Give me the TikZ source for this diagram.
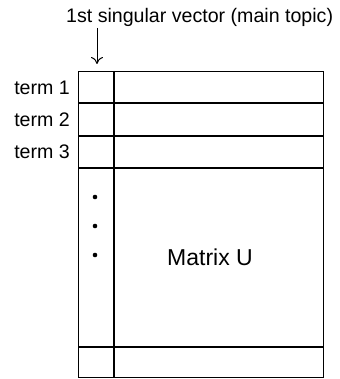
\documentclass[tikz,border=0pt]{standalone}
\usepackage{fontspec}
\setmainfont{Liberation Sans}
\usetikzlibrary{arrows.meta,positioning}

\begin{document}
\begin{tikzpicture}[x=1pt,y=-1pt,
  gridline/.style={line width=1.3pt},
  lbl/.style={font=\fontsize{19.6}{22}\selectfont, inner sep=0pt},
  biglbl/.style={font=\fontsize{23}{26}\selectfont, inner sep=0pt}]
 \useasboundingbox (0,0) rectangle (339,379);
 \node[lbl, anchor=base west] (title) at (66,23) {1st singular vector (main topic)};
 \coordinate (tail) at (97,28);
 \coordinate (tip) at (97,64);
 \draw[line width=1pt, -{To[length=7pt,width=12pt]}] (tail) -- (tip);

 \node[draw, gridline, anchor=north west, inner sep=0pt,
     minimum width=245pt, minimum height=306pt] (U) at (78,71) {};
 \draw[gridline] ([xshift=36pt]U.north west) -- ([xshift=36pt]U.south west);
 \foreach \y in {32,65,97,276}
   \draw[gridline] ([yshift=-\y pt]U.north west) -- ([yshift=-\y pt]U.north east);

 \foreach \i/\y in {1/88,2/120,3/152}
   \node[lbl, anchor=east] (term\i) at (70,\y) {term \i};
 \foreach \y in {197,226,255}
   \fill (95,\y) circle (2.3pt);

 \node[biglbl, anchor=base] (mlabel) at (210,265) {Matrix U};
\end{tikzpicture}
\end{document}
